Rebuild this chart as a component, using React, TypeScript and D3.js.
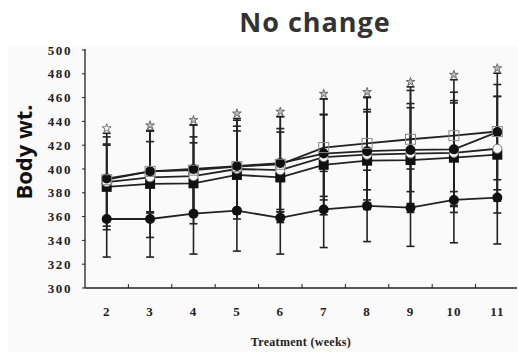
import React from "react";
import * as d3 from "d3";

const weeks = ["2", "3", "4", "5", "6", "7", "8", "9", "10", "11"];
const yTicks = [300, 320, 340, 360, 380, 400, 420, 440, 460, 480, 500];

// series means
const openSquare = [391, 398, 399, 402, 404, 418, 421.5, 425, 428, 431.5];
const filledCircleHigh = [392, 398, 400, 402.5, 405, 413, 415, 416, 416.5, 431];
const openCircle = [389, 393, 394, 400, 399, 410, 412, 413, 413.5, 417];
const filledSquare = [385, 387.5, 388, 395, 393, 403.5, 407, 407.5, 409.5, 412];
const filledCircleLow = [358, 358, 362.5, 365, 359, 366, 369, 367.5, 374, 376];

// standard deviations
const sdOpenSquare = [39, 34, 38, 39, 40, 41, 39, 44, 47, 49];
const sdFilledCircleHigh = [35, 34, 37, 40, 39, 46, 45, 50, 48, 40];
const sdOpenCircle = [31, 30, 33, 36, 35, 36, 38, 42, 44, 44];
const sdFilledSquare = [36, 45, 34, 37, 38, 42, 41, 44, 46, 49];
const sdFilledCircleLow = [32, 32, 34, 34, 30.5, 32, 30, 32.5, 36, 39];

type Series = { name: string; values: number[]; sd: number[]; marker: string };
const series: Series[] = [
  { name: "low", values: filledCircleLow, sd: sdFilledCircleLow, marker: "fc" },
  { name: "fsq", values: filledSquare, sd: sdFilledSquare, marker: "fs" },
  { name: "oc", values: openCircle, sd: sdOpenCircle, marker: "oc" },
  { name: "fch", values: filledCircleHigh, sd: sdFilledCircleHigh, marker: "fc" },
  { name: "osq", values: openSquare, sd: sdOpenSquare, marker: "os" },
];

export default function App() {
  const W = 518, H = 352;
  const x = d3.scaleBand<string>().domain(weeks).range([85, 519]).padding(0);
  const y = d3.scaleLinear().domain([300, 500]).range([288, 50]);
  const cx = (w: string) => (x(w) as number) + x.bandwidth() / 2;
  const line = d3.line<number>().x((_, i) => cx(weeks[i])).y((v) => y(v));
  const serif = "'Liberation Serif', 'DejaVu Serif', serif";
  const star = d3.symbol().type(d3.symbolStar).size(24)() as string;

  return (
    <svg width={W} height={H} style={{ position: "absolute", left: 0, top: 0, background: "#fff" }}>
      <rect x={8} y={47} width={510} height={305} fill="#fafafa" />
      <text x={315} y={32} textAnchor="middle" fontFamily="'Open Sans', 'Noto Sans', sans-serif" fontWeight={700} fontSize={27} letterSpacing={1} fill="#333">No change</text>
      <text transform="translate(32,152) rotate(-90)" textAnchor="middle" fontFamily="'Open Sans', 'Noto Sans', sans-serif" fontWeight={700} fontSize={22} fill="#111">Body wt.</text>

      {/* axes */}
      <line x1={85} x2={85} y1={49} y2={288} stroke="#222" strokeWidth={1.3} />
      <line x1={85} x2={517} y1={288} y2={288} stroke="#222" strokeWidth={1.3} />
      {yTicks.map((t) => (
        <g key={t}>
          <line x1={82} x2={85} y1={y(t)} y2={y(t)} stroke="#222" strokeWidth={1} />
          <text x={72} y={y(t) + 4.5} textAnchor="end" fontFamily={serif} fontWeight={700} fontSize={13} letterSpacing={1.6} fill="#222">{t}</text>
        </g>
      ))}
      {weeks.slice(1).map((w) => (
        <line key={w} x1={x(w)} x2={x(w)} y1={284} y2={288} stroke="#222" strokeWidth={1} />
      ))}
      {weeks.map((w) => (
        <text key={w} x={cx(w)} y={316} textAnchor="middle" fontFamily={serif} fontWeight={700} fontSize={13} letterSpacing={1} fill="#222">{w}</text>
      ))}
      <text x={301} y={346} textAnchor="middle" fontFamily={serif} fontWeight={700} fontSize={12} letterSpacing={0.3} fill="#222">Treatment (weeks)</text>

      {/* error bars */}
      {series.map((s) => (
        <g key={"e" + s.name}>
          {s.values.map((v, i) => {
            const px = cx(weeks[i]);
            return (
              <g key={i}>
                <line x1={px} x2={px} y1={y(v - s.sd[i])} y2={y(v + s.sd[i])} stroke="#222" strokeWidth={1.6} />
                <line x1={px - 4} x2={px + 4} y1={y(v - s.sd[i])} y2={y(v - s.sd[i])} stroke="#222" strokeWidth={1.6} />
                <line x1={px - 4} x2={px + 4} y1={y(v + s.sd[i])} y2={y(v + s.sd[i])} stroke="#222" strokeWidth={1.6} />
              </g>
            );
          })}
        </g>
      ))}

      {/* stars */}
      {weeks.map((w, i) => {
        const top = d3.max(series, (s) => s.values[i] + s.sd[i]) as number;
        return (
          <path key={"s" + w} d={star} transform={`translate(${cx(w)},${y(top) - 5})`} fill={i === 0 ? "#fff" : "#bbb"} stroke="#555" strokeWidth={0.8} />
        );
      })}

      {/* lines */}
      {series.map((s) => (
        <path key={"l" + s.name} d={line(s.values) as string} fill="none" stroke="#222" strokeWidth={1.8} />
      ))}

      {/* markers */}
      {series.map((s) => (
        <g key={"m" + s.name}>
          {s.values.map((v, i) => {
            const px = cx(weeks[i]);
            const py = y(v);
            if (s.marker === "fc") return <circle key={i} cx={px} cy={py} r={5} fill="#111" />;
            if (s.marker === "fs") return <rect key={i} x={px - 5} y={py - 5} width={10} height={10} fill="#111" />;
            if (s.marker === "oc") return <circle key={i} cx={px} cy={py} r={4.5} fill="#fafafa" stroke="#777" strokeWidth={1} />;
            return <rect key={i} x={px - 5} y={py - 5} width={10} height={10} fill="none" stroke="#888" strokeWidth={1} />;
          })}
        </g>
      ))}
    </svg>
  );
}
